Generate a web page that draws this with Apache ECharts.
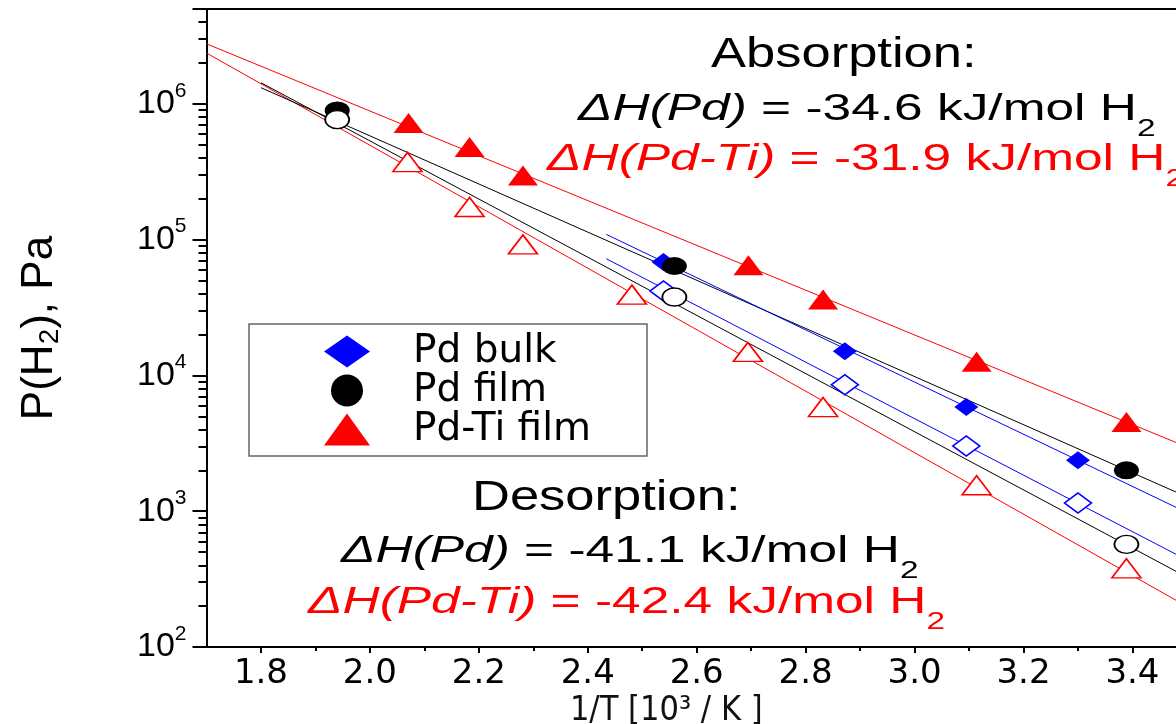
<!DOCTYPE html>
<html>
<head>
<meta charset="utf-8">
<script src="https://cdn.jsdelivr.net/npm/echarts@6/dist/echarts.min.js"></script>
<style>
html,body{margin:0;padding:0;background:#fff;}
#c{width:1176px;height:724px;}
</style>
</head>
<body>
<div id="c"></div>
<script>
// ---- data (1/T in 10^3/K, pressure in Pa) ----
const xMajorTicks = [1.8, 2.0, 2.2, 2.4, 2.6, 2.8, 3.0, 3.2, 3.4];
const xMinorTicks = [1.9, 2.1, 2.3, 2.5, 2.7, 2.9, 3.1, 3.3];
const yMinorTicks = [200,300,400,500,600,700,800,900,
                     2000,3000,4000,5000,6000,7000,8000,9000,
                     2e4,3e4,4e4,5e4,6e4,7e4,8e4,9e4,
                     2e5,3e5,4e5,5e5,6e5,7e5,8e5,9e5,
                     2e6,3e6,4e6];

const legendNames = ['Pd bulk', 'Pd film', 'Pd-Ti film'];

// Pd bulk
const pdBulkX      = [2.539, 2.872, 3.095, 3.300];
const pdBulkAbsY   = [6.84e4, 1.51e4, 5850, 2370];
const pdBulkDesY   = [4.19e4, 8550, 3020, 1148];
// Pd film
const pdFilmX      = [1.940, 2.559, 3.389];
const pdFilmAbsY   = [8.96e5, 6.4e4, 2000];
const pdFilmDesY   = [7.66e5, 3.78e4, 570];
// Pd-Ti film
const pdTiAbsX     = [2.071, 2.183, 2.281, 2.695, 2.832, 3.114, 3.389];
const pdTiAbsY     = [7.22e5, 4.81e5, 2.97e5, 6.47e4, 3.63e4, 1.26e4, 4540];
const pdTiDesX     = [2.069, 2.183, 2.281, 2.481, 2.694, 2.832, 3.114, 3.389];
const pdTiDesY     = [3.73e5, 1.74e5, 9.23e4, 3.94e4, 1.49e4, 5850, 1553, 380];

// fitted van 't Hoff lines (end points)
const redAbsLineX   = [1.70, 3.48];  const redAbsLineY   = [2.77e6, 3210];
const redDesLineX   = [1.70, 3.48];  const redDesLineY   = [2.37e6, 221];
const blackAbsLineX = [1.80, 3.48];  const blackAbsLineY = [1.316e6, 1384];
const blackDesLineX = [1.80, 3.48];  const blackDesLineY = [1.432e6, 361];
const blueAbsLineX  = [2.434, 3.48]; const blueAbsLineY  = [1.094e5, 1069];
const blueDesLineX  = [2.434, 3.48]; const blueDesLineY  = [7.24e4, 482];

const zip = (xs, ys) => xs.map((x, i) => [x, ys[i]]);

const RED = '#ff0000', BLUE = '#0000ff', BLACK = '#000000';
const FONT = "'Liberation Sans', Arial, sans-serif";

function lineSeries(name, xs, ys, color) {
  return {
    name, type: 'line', data: zip(xs, ys), showSymbol: false, symbol: 'none',
    lineStyle: { color, width: 1 }, silent: true, z: 2, animation: false
  };
}
function scatter(name, xs, ys, symbol, size, color, open) {
  return {
    name, type: 'scatter', data: zip(xs, ys), symbol, symbolSize: size,
    itemStyle: open ? { color: '#ffffff', borderColor: color, borderWidth: 1.6, opacity: 1 }
                    : { color, opacity: 1 },
    z: 3, animation: false
  };
}

const chart = echarts.init(document.getElementById('c'), null, { renderer: 'canvas' });

function richStyles(color, size, subSize) {
  return {
    i: { fontStyle: 'italic', fontSize: size, fontFamily: FONT, fill: color },
    n: { fontSize: size, fontFamily: FONT, fill: color },
    s: { fontSize: subSize, fontFamily: FONT, fill: color, padding: [38, 0, 0, 0] }
  };
}
function annot(x, y, text, color, size, scaleX, rich) {
  return {
    type: 'text', x, y, scaleX, z: 10,
    style: {
      text, fill: color, fontSize: size, fontFamily: FONT,
      align: 'left', verticalAlign: 'middle', rich
    }
  };
}

const option = {
  backgroundColor: '#ffffff',
  animation: false,
  grid: { left: 206.5, right: 0, top: 9, bottom: 77, containLabel: false, outerBoundsMode: 'none' },
  legend: {
    data: [
      { name: 'Pd bulk', icon: 'diamond' },
      { name: 'Pd film', icon: 'circle' },
      { name: 'Pd-Ti film', icon: 'triangle' }
    ],
    orient: 'vertical', left: 249, top: 324,
    itemWidth: 46, itemHeight: 32, itemGap: 0, symbolKeepAspect: false,
    padding: [8, 56, 7, 75],
    borderColor: '#666', borderWidth: 1.5, backgroundColor: '#ffffff',
    selectedMode: false,
    textStyle: { fontSize: 39, fontFamily: "'DejaVu Sans', sans-serif", color: '#000',
                 padding: [0, 0, 0, 38], lineHeight: 34 }
  },
  xAxis: [
    {
      type: 'value', min: 1.7, max: 3.48, position: 'bottom',
      name: '1/T [10³ / K ]', nameLocation: 'middle', nameGap: 47, nameMoveOverlap: false,
      nameTextStyle: { fontSize: 34, fontFamily: "'DejaVu Sans Condensed','DejaVu Sans',sans-serif",
                       color: '#111', padding: [0, 50, 0, 0] },
      axisLine: { show: true, onZero: false, lineStyle: { color: BLACK, width: 2 } },
      axisTick: { show: true, customValues: xMajorTicks, length: 6, lineStyle: { color: BLACK, width: 2 } },
      axisLabel: { show: true, customValues: xMajorTicks, formatter: v => Number(v).toFixed(1),
                   fontSize: 34, fontFamily: "'DejaVu Sans', sans-serif", color: BLACK, margin: 10 },
      splitLine: { show: false }
    },
    {
      type: 'value', min: 1.7, max: 3.48, position: 'bottom',
      axisLine: { show: false },
      axisTick: { show: true, customValues: xMinorTicks, length: 4, lineStyle: { color: BLACK, width: 2 } },
      axisLabel: { show: false },
      splitLine: { show: false }
    },
    {
      type: 'value', min: 1.7, max: 3.48, position: 'top',
      axisLine: { show: true, onZero: false, lineStyle: { color: BLACK, width: 2 } },
      axisTick: { show: false }, axisLabel: { show: false }, splitLine: { show: false }
    }
  ],
  yAxis: [
    {
      type: 'log', logBase: 10, min: 100, max: 5e6, position: 'left',
      name: '{a|P(H}{s|2}{a|), Pa}', nameLocation: 'middle', nameGap: 142,
      nameTextStyle: {
        rich: {
          a: { fontSize: 44, fontFamily: FONT, color: BLACK },
          s: { fontSize: 28, fontFamily: FONT, color: BLACK, padding: [22, 0, 0, 0] }
        }
      },
      axisLine: { show: true, onZero: false, lineStyle: { color: BLACK, width: 2 } },
      axisTick: { show: true, length: 14, lineStyle: { color: BLACK, width: 2 } },
      axisLabel: {
        margin: 20,
        formatter: v => {
          const l = Math.log10(v), e = Math.round(l);
          if (Math.abs(l - e) > 1e-6) return '';
          return '{b|10}{s|' + e + '}';
        },
        rich: {
          b: { fontSize: 34, fontFamily: FONT, color: BLACK },
          s: { fontSize: 21, fontFamily: FONT, color: BLACK, padding: [0, 0, 26, 0] }
        }
      },
      splitLine: { show: false }
    },
    {
      type: 'log', logBase: 10, min: 100, max: 5e6, position: 'left',
      axisLine: { show: false },
      axisTick: { show: true, customValues: yMinorTicks, length: 8, lineStyle: { color: BLACK, width: 2 } },
      axisLabel: { show: false },
      splitLine: { show: false }
    }
  ],
  series: [
    lineSeries('red abs fit', redAbsLineX, redAbsLineY, RED),
    lineSeries('red des fit', redDesLineX, redDesLineY, RED),
    lineSeries('black abs fit', blackAbsLineX, blackAbsLineY, BLACK),
    lineSeries('black des fit', blackDesLineX, blackDesLineY, BLACK),
    lineSeries('blue abs fit', blueAbsLineX, blueAbsLineY, BLUE),
    lineSeries('blue des fit', blueDesLineX, blueDesLineY, BLUE),
    scatter('Pd bulk', pdBulkX, pdBulkAbsY, 'diamond', [24, 18], BLUE, false),
    scatter('Pd bulk desorption', pdBulkX, pdBulkDesY, 'diamond', [27, 20], BLUE, true),
    scatter('Pd film', pdFilmX, pdFilmAbsY, 'circle', [25, 18], BLACK, false),
    scatter('Pd film desorption', pdFilmX, pdFilmDesY, 'circle', [24, 18], BLACK, true),
    scatter('Pd-Ti film', pdTiAbsX, pdTiAbsY, 'triangle', [30, 20], RED, false),
    scatter('Pd-Ti film desorption', pdTiDesX, pdTiDesY, 'triangle', [29, 19], RED, true)
  ],
  graphic: [
    annot(711, 55, 'Absorption:', BLACK, 42, 1.25),
    annot(578, 110, '{i|ΔH(Pd)}{n| = -34.6 kJ/mol H}{s|2}', BLACK, 37, 1.39, richStyles(BLACK, 37, 24)),
    annot(547, 160, '{i|ΔH(Pd-Ti)}{n| = -31.9 kJ/mol H}{s|2}', RED, 37, 1.39, richStyles(RED, 37, 24)),
    annot(472, 498, 'Desorption:', BLACK, 42, 1.25),
    annot(341, 552, '{i|ΔH(Pd)}{n| = -41.1 kJ/mol H}{s|2}', BLACK, 37, 1.39, richStyles(BLACK, 37, 24)),
    annot(308, 603, '{i|ΔH(Pd-Ti)}{n| = -42.4 kJ/mol H}{s|2}', RED, 37, 1.39, richStyles(RED, 37, 24))
  ]
};
chart.setOption(option);
</script>
</body>
</html>
